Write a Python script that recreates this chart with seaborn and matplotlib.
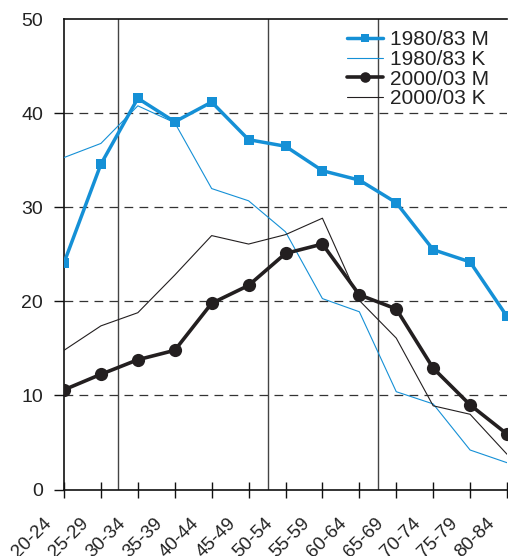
import matplotlib
matplotlib.use("Agg")
import matplotlib.pyplot as plt
import matplotlib.transforms as mtransforms
import numpy as np
import pandas as pd
import seaborn as sns

# Age groups and rates per series
age_groups = ["20-24", "25-29", "30-34", "35-39", "40-44", "45-49", "50-54",
              "55-59", "60-64", "65-69", "70-74", "75-79", "80-84"]
m_1980 = [24.1, 34.6, 41.6, 39.1, 41.2, 37.2, 36.5, 33.9, 32.9, 30.5, 25.5, 24.2, 18.4]
k_1980 = [35.3, 36.8, 40.8, 39.0, 32.0, 30.7, 27.4, 20.3, 18.9, 10.4, 9.1, 4.2, 2.85]
m_2000 = [10.6, 12.25, 13.8, 14.8, 19.8, 21.7, 25.1, 26.1, 20.7, 19.2, 12.9, 9.0, 5.9]
k_2000 = [14.8, 17.4, 18.8, 22.8, 27.0, 26.1, 27.1, 28.85, 20.1, 16.1, 8.9, 8.0, 3.75]

series_names = ["1980/83 M", "1980/83 K", "2000/03 M", "2000/03 K"]
y_ticks = [0, 10, 20, 30, 40, 50]
divider_positions = [1.45, 5.52, 8.5]

BLUE = "#1590d6"
BLACK = "#231f20"

sns.set_theme(style="white")
plt.rcParams["font.family"] = ["Liberation Sans", "DejaVu Sans"]

pos = np.arange(len(age_groups))
df = pd.DataFrame({
    "pos": np.tile(pos, 4),
    "value": m_1980 + k_1980 + m_2000 + k_2000,
    "series": np.repeat(series_names, len(age_groups)),
})

fig = plt.figure(figsize=(5.08, 5.56), dpi=100)
ax = fig.add_axes([64 / 508, 1 - 489.5 / 556, (507 - 64) / 508, (489.5 - 19.3) / 556])

styles = {
    "1980/83 M": dict(color=BLUE, lw=2.5, marker="s", ms=6.8, zorder=4),
    "1980/83 K": dict(color=BLUE, lw=0.8, marker=None, ms=0, zorder=3),
    "2000/03 M": dict(color=BLACK, lw=2.6, marker="o", ms=9.5, zorder=5),
    "2000/03 K": dict(color=BLACK, lw=0.8, marker=None, ms=0, zorder=3),
}
for name in series_names:
    st = styles[name]
    sns.lineplot(data=df[df["series"] == name], x="pos", y="value", ax=ax,
                 color=st["color"], linewidth=st["lw"], marker=st["marker"],
                 markersize=st["ms"], markeredgewidth=0, label=name,
                 zorder=st["zorder"], errorbar=None)

# horizontal dashed reference lines
for yv in y_ticks[1:-1]:
    ax.axhline(yv, color="#333333", lw=0.9, ls=(0, (7, 5)), zorder=1)
# vertical separators
for xv in divider_positions:
    ax.axvline(xv, color="#444444", lw=1.0, zorder=1)

ax.set_xlim(0, 12)
ax.set_ylim(0, 50)
ax.set_xlabel("")
ax.set_ylabel("")
ax.set_yticks(y_ticks)
ax.set_yticklabels([str(v) for v in y_ticks])
ax.set_xticks(pos)
ax.set_xticklabels(age_groups, rotation=45, ha="right", va="top")

for side in ["left", "bottom", "top"]:
    ax.spines[side].set_visible(True)
    ax.spines[side].set_color("#111111")
    ax.spines[side].set_linewidth(1.2)
ax.spines["right"].set_visible(False)

ax.tick_params(axis="y", direction="out", length=7, width=1.0, color="#111111",
               labelsize=14, labelcolor="#222222", pad=8, left=True)
ax.tick_params(axis="x", direction="inout", length=12, width=1.0, color="#111111",
               labelsize=13.5, labelcolor="#222222", pad=12, bottom=True)
ax.yaxis.get_major_ticks()[-1].tick1line.set_visible(False)

offset = mtransforms.ScaledTranslation(-9 / 100, 0, fig.dpi_scale_trans)
for lab in ax.get_xticklabels():
    lab.set_transform(lab.get_transform() + offset)

leg = ax.legend(loc="upper left", bbox_to_anchor=(347 / 508, 1 - 30 / 556),
                bbox_transform=fig.transFigure, frameon=False, fontsize=15,
                handlelength=1.73, handletextpad=0.33, labelspacing=0.04,
                borderpad=0, borderaxespad=0, markerscale=0.8)
for t in leg.get_texts():
    t.set_color("#222222")

fig.savefig("out.png", dpi=100)
